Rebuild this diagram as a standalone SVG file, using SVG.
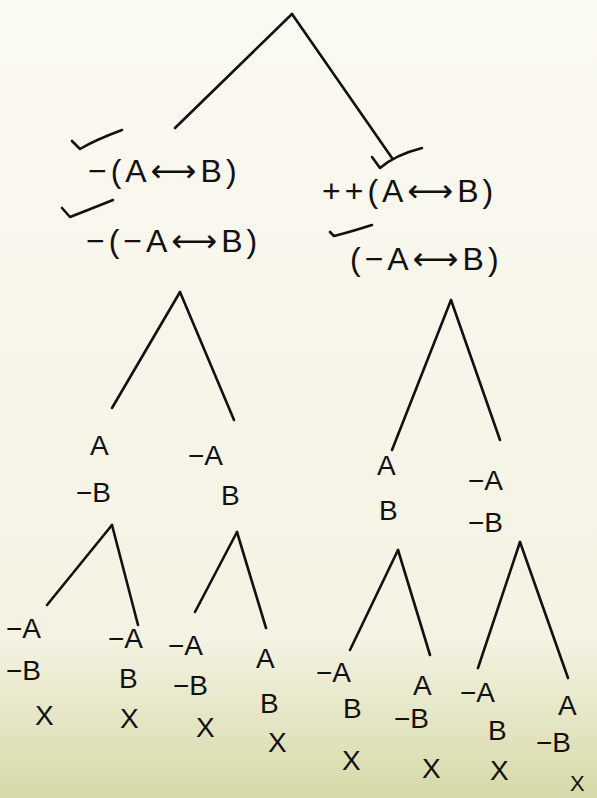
<svg xmlns="http://www.w3.org/2000/svg" width="597" height="798" viewBox="0 0 597 798">
<defs>
<linearGradient id="paper" x1="0" y1="0" x2="0" y2="1">
<stop offset="0" stop-color="#fbfaf3"/>
<stop offset="0.8" stop-color="#f4f2e2"/>
<stop offset="1" stop-color="#d6d9a8"/>
</linearGradient>
</defs>
<style>
.t{font-family:"Liberation Sans",Arial,sans-serif;fill:#111;font-size:28px}
.f{font-size:32px;letter-spacing:4px}
.a{font-family:"DejaVu Sans",sans-serif}
.e{stroke:#111;stroke-width:2.6;fill:none;stroke-linecap:round;stroke-linejoin:round}
</style>
<rect width="597" height="798" fill="url(#paper)"/>
<g id="connectors" class="e">
<path d="M292 14 L175 128"/>
<path d="M292 14 L392 158"/>
<path d="M180 292 L112 408"/>
<path d="M180 292 L234 420"/>
<path d="M451 300 L392 450"/>
<path d="M451 300 L500 440"/>
<path d="M112 525 L47 605"/>
<path d="M112 525 L138 625"/>
<path d="M237 532 L195 612"/>
<path d="M237 532 L266 628"/>
<path d="M398 550 L350 650"/>
<path d="M398 550 L430 655"/>
<path d="M520 542 L478 668"/>
<path d="M520 542 L568 678"/>
<path d="M72 141 L80 149 Q95 140 122 130"/>
<path d="M62 208 L70 217 Q88 210 113 200"/>
<path d="M372 157 L380 168 Q395 155 422 148"/>
<path d="M330 232 L334 236 Q350 232 372 225"/>
</g>
<g id="root">
<text class="t f" x="88" y="182">−(A<tspan class="a">⟷</tspan>B)</text>
<text class="t f" x="86" y="252">−(−A<tspan class="a">⟷</tspan>B)</text>
</g>
<g id="right-root">
<text class="t f" x="322" y="202">++(A<tspan class="a">⟷</tspan>B)</text>
<text class="t f" x="350" y="270">(−A<tspan class="a">⟷</tspan>B)</text>
</g>
<g id="n1"><text class="t" x="90" y="455">A</text><text class="t" x="76" y="502">−B</text></g>
<g id="n2"><text class="t" x="188" y="465">−A</text><text class="t" x="221" y="505">B</text></g>
<g id="n3"><text class="t" x="377" y="475">A</text><text class="t" x="379" y="520">B</text></g>
<g id="n4"><text class="t" x="468" y="490">−A</text><text class="t" x="468" y="532">−B</text></g>
<g id="l1"><text class="t" x="6" y="638">−A</text><text class="t" x="6" y="680">−B</text><text class="t" x="35" y="725">X</text></g>
<g id="l2"><text class="t" x="108" y="648">−A</text><text class="t" x="119" y="688">B</text><text class="t" x="120" y="728">X</text></g>
<g id="l3"><text class="t" x="168" y="655">−A</text><text class="t" x="173" y="695">−B</text><text class="t" x="196" y="737">X</text></g>
<g id="l4"><text class="t" x="256" y="668">A</text><text class="t" x="260" y="713">B</text><text class="t" x="268" y="752">X</text></g>
<g id="l5"><text class="t" x="316" y="682">−A</text><text class="t" x="343" y="718">B</text><text class="t" x="342" y="770">X</text></g>
<g id="l6"><text class="t" x="413" y="695">A</text><text class="t" x="394" y="728">−B</text><text class="t" x="422" y="778">X</text></g>
<g id="l7"><text class="t" x="460" y="702">−A</text><text class="t" x="488" y="740">B</text><text class="t" x="490" y="780">X</text></g>
<g id="l8"><text class="t" x="558" y="715">A</text><text class="t" x="536" y="752">−B</text><text class="t" x="570" y="791" style="font-size:22px">X</text></g>
</svg>
